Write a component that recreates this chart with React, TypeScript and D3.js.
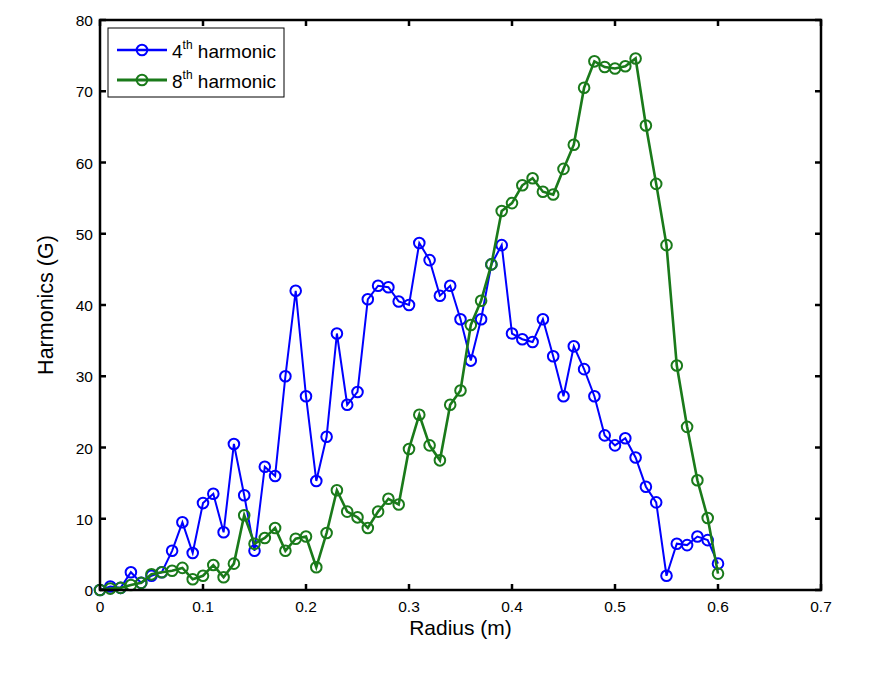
import React from "react";
import * as d3 from "d3";

const radius: number[] = d3.range(0, 61).map((i) => i / 100);
const harmonic4: number[] = [
  0, 0.5, 0.3, 2.5, 1, 2, 2.5, 5.5, 9.5, 5.2,
  12.2, 13.5, 8.1, 20.5, 13.3, 5.5, 17.3, 16, 30, 42,
  27.2, 15.3, 21.5, 36, 26, 27.8, 40.8, 42.7, 42.5, 40.5,
  40, 48.7, 46.3, 41.3, 42.7, 38, 32.2, 38, 45.7, 48.4,
  36, 35.2, 34.8, 38, 32.8, 27.2, 34.2, 31, 27.2, 21.7,
  20.3, 21.3, 18.6, 14.5, 12.3, 2, 6.5, 6.3, 7.5, 7,
  3.7,
];
const harmonic8: number[] = [
  0, 0.2, 0.3, 0.7, 1, 2.2, 2.5, 2.7, 3.1, 1.5,
  2, 3.5, 1.8, 3.7, 10.5, 6.5, 7.3, 8.7, 5.5, 7.2,
  7.5, 3.2, 8, 14, 11, 10.2, 8.7, 11, 12.8, 12,
  19.8, 24.6, 20.3, 18.2, 26, 28, 37.2, 40.6, 45.7, 53.2,
  54.3, 56.8, 57.8, 55.9, 55.5, 59.1, 62.5, 70.5, 74.2, 73.4,
  73.2, 73.5, 74.6, 65.2, 57, 48.4, 31.5, 22.9, 15.4, 10.1,
  2.3,
];
const xTicks: number[] = [0, 0.1, 0.2, 0.3, 0.4, 0.5, 0.6, 0.7];
const yTicks: number[] = [0, 10, 20, 30, 40, 50, 60, 70, 80];

const series = [
  { name: "4", values: harmonic4, color: "#0000ff", width: 2 },
  { name: "8", values: harmonic8, color: "#1a7a1a", width: 2.6 },
];

export default function App() {
  const W = 887, H = 673;
  const left = 100, right = 821, top = 20, bottom = 590;
  const x = d3.scaleLinear().domain([0, 0.7]).range([left, right]);
  const y = d3.scaleLinear().domain([0, 80]).range([bottom, top]);
  const line = d3
    .line<number>()
    .x((_, i) => x(radius[i]))
    .y((d) => y(d));
  const font = "Liberation Sans, Arial, sans-serif";
  const tick = 6;
  return (
    <svg
      width={W}
      height={H}
      style={{ position: "absolute", left: 0, top: 0, background: "#fff" }}
      fontFamily={font}
    >
      <rect x={0} y={0} width={W} height={H} fill="#fff" />
      {series.map((s) => (
        <g key={s.name}>
          <path d={line(s.values) || ""} fill="none" stroke={s.color} strokeWidth={s.width} />
          {s.values.map((v, i) => (
            <circle
              key={i}
              cx={x(radius[i])}
              cy={y(v)}
              r={5.3}
              fill="none"
              stroke={s.color}
              strokeWidth={2}
            />
          ))}
        </g>
      ))}
      {/* box */}
      <rect x={left} y={top} width={right - left} height={bottom - top} fill="none" stroke="#000" strokeWidth={2.5} />
      {xTicks.map((t) => (
        <g key={"x" + t}>
          <line x1={x(t)} x2={x(t)} y1={bottom} y2={bottom - tick} stroke="#000" strokeWidth={2.5} />
          <line x1={x(t)} x2={x(t)} y1={top} y2={top + tick} stroke="#000" strokeWidth={2.5} />
          <text x={x(t)} y={bottom + 22} textAnchor="middle" fontSize={15.5} fill="#000">
            {t === 0 ? "0" : String(t)}
          </text>
        </g>
      ))}
      {yTicks.map((t) => (
        <g key={"y" + t}>
          <line x1={left} x2={left + tick} y1={y(t)} y2={y(t)} stroke="#000" strokeWidth={2.5} />
          <line x1={right} x2={right - tick} y1={y(t)} y2={y(t)} stroke="#000" strokeWidth={2.5} />
          <text x={left - 7} y={y(t) + 6} textAnchor="end" fontSize={15.5} fill="#000">
            {t}
          </text>
        </g>
      ))}
      <text x={(left + right) / 2} y={635} textAnchor="middle" fontSize={21} fill="#000">
        Radius (m)
      </text>
      <text
        transform={`translate(53, ${(top + bottom) / 2}) rotate(-90)`}
        textAnchor="middle"
        fontSize={21.5}
        fill="#000"
      >
        Harmonics (G)
      </text>
      {/* legend */}
      <rect x={108} y={28} width={176} height={69} fill="#fff" stroke="#000" strokeWidth={1} />
      {series.map((s, i) => {
        const ly = 50 + i * 30;
        return (
          <g key={"l" + s.name}>
            <line x1={117} x2={167} y1={ly} y2={ly} stroke={s.color} strokeWidth={s.width + 0.5} />
            <circle cx={142} cy={ly} r={5.3} fill="none" stroke={s.color} strokeWidth={2} />
            <text x={172} y={ly + 8} fontSize={19} fill="#000">
              {s.name}
              <tspan dy={-9} fontSize={12}>th</tspan>
              <tspan dy={9}> harmonic</tspan>
            </text>
          </g>
        );
      })}
    </svg>
  );
}
